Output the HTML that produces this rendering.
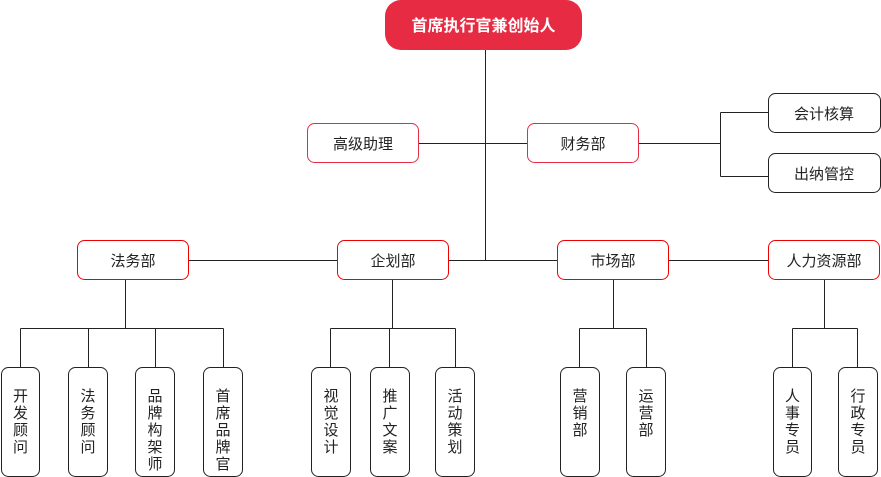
<!DOCTYPE html>
<html><head><meta charset="utf-8"><style>
body{margin:0;background:#fff;}
svg{display:block;font-family:"Liberation Sans","Noto Sans CJK SC",sans-serif;}
</style></head><body>
<svg width="881" height="477" viewBox="0 0 881 477" xmlns="http://www.w3.org/2000/svg">
<g stroke="#222" stroke-width="1" fill="none">
<path d="M485.5 50V260.5"/>
<path d="M419 143.5H720.5M720.5 112.5V176.5M720.5 112.5H768M720.5 176.5H768"/>
<path d="M188 260.5H768"/>
<path d="M125.5 279V328.5M20.5 328.5H223.5M20.5 328.5V367M88.5 328.5V367M155.5 328.5V367M223.5 328.5V367"/>
<path d="M392.5 279V328.5M330.5 328.5H455.5M330.5 328.5V367M389.5 328.5V367M455.5 328.5V367"/>
<path d="M613.5 279V328.5M579.5 328.5H646.5M579.5 328.5V367M646.5 328.5V367"/>
<path d="M824.5 279V328.5M792.5 328.5H857.5M792.5 328.5V367M857.5 328.5V367"/>
</g>
<rect x="385" y="0" width="197" height="50" rx="16" fill="#e62b43"/>
<text x="483.5" y="31" font-size="16" font-weight="bold" fill="#fff" text-anchor="middle">首席执行官兼创始人</text>
<g fill="#fff" stroke="#e62b43" stroke-width="1">
<rect x="307.5" y="123.5" width="111" height="39" rx="7"/>
<rect x="527.5" y="123.5" width="111" height="39" rx="7"/>
</g>
<g fill="#fff" stroke="#e00" stroke-width="1">
<rect x="77.5" y="240.5" width="111" height="39" rx="7"/>
<rect x="337.5" y="240.5" width="111" height="39" rx="7"/>
<rect x="557.5" y="240.5" width="111" height="39" rx="7"/>
<rect x="768.5" y="240.5" width="111" height="39" rx="7"/>
</g>
<g fill="#fff" stroke="#222" stroke-width="1">
<rect x="768.5" y="93.5" width="112" height="39" rx="7"/>
<rect x="768.5" y="153.5" width="112" height="39" rx="7"/>
<rect x="1.5" y="367.5" width="38" height="109" rx="7"/>
<rect x="68.5" y="367.5" width="39" height="109" rx="7"/>
<rect x="135.5" y="367.5" width="39" height="109" rx="7"/>
<rect x="203.5" y="367.5" width="39" height="109" rx="7"/>
<rect x="311.5" y="367.5" width="39" height="109" rx="7"/>
<rect x="370.5" y="367.5" width="39" height="109" rx="7"/>
<rect x="435.5" y="367.5" width="39" height="109" rx="7"/>
<rect x="560.5" y="367.5" width="39" height="109" rx="7"/>
<rect x="626.5" y="367.5" width="39" height="109" rx="7"/>
<rect x="773.5" y="367.5" width="38" height="109" rx="7"/>
<rect x="838.5" y="367.5" width="39" height="109" rx="7"/>
</g>
<g font-size="15" fill="#222" text-anchor="middle">
<text x="363" y="149">高级助理</text>
<text x="583" y="149">财务部</text>
<text x="824" y="119">会计核算</text>
<text x="824" y="179">出纳管控</text>
<text x="133" y="266">法务部</text>
<text x="393" y="266">企划部</text>
<text x="613" y="266">市场部</text>
<text x="824" y="266">人力资源部</text>
</g>
<g font-size="15" fill="#222" text-anchor="middle">
<text x="20.5" y="401"><tspan x="20.5">开</tspan><tspan x="20.5" dy="17">发</tspan><tspan x="20.5" dy="17">顾</tspan><tspan x="20.5" dy="17">问</tspan></text>
<text x="88" y="401"><tspan x="88">法</tspan><tspan x="88" dy="17">务</tspan><tspan x="88" dy="17">顾</tspan><tspan x="88" dy="17">问</tspan></text>
<text x="155" y="401"><tspan x="155">品</tspan><tspan x="155" dy="17">牌</tspan><tspan x="155" dy="17">构</tspan><tspan x="155" dy="17">架</tspan><tspan x="155" dy="17">师</tspan></text>
<text x="223" y="401"><tspan x="223">首</tspan><tspan x="223" dy="17">席</tspan><tspan x="223" dy="17">品</tspan><tspan x="223" dy="17">牌</tspan><tspan x="223" dy="17">官</tspan></text>
<text x="331" y="401"><tspan x="331">视</tspan><tspan x="331" dy="17">觉</tspan><tspan x="331" dy="17">设</tspan><tspan x="331" dy="17">计</tspan></text>
<text x="390" y="401"><tspan x="390">推</tspan><tspan x="390" dy="17">广</tspan><tspan x="390" dy="17">文</tspan><tspan x="390" dy="17">案</tspan></text>
<text x="455" y="401"><tspan x="455">活</tspan><tspan x="455" dy="17">动</tspan><tspan x="455" dy="17">策</tspan><tspan x="455" dy="17">划</tspan></text>
<text x="580" y="401"><tspan x="580">营</tspan><tspan x="580" dy="17">销</tspan><tspan x="580" dy="17">部</tspan></text>
<text x="646" y="401"><tspan x="646">运</tspan><tspan x="646" dy="17">营</tspan><tspan x="646" dy="17">部</tspan></text>
<text x="792.5" y="401"><tspan x="792.5">人</tspan><tspan x="792.5" dy="17">事</tspan><tspan x="792.5" dy="17">专</tspan><tspan x="792.5" dy="17">员</tspan></text>
<text x="858" y="401"><tspan x="858">行</tspan><tspan x="858" dy="17">政</tspan><tspan x="858" dy="17">专</tspan><tspan x="858" dy="17">员</tspan></text>
</g>
</svg>
</body></html>
